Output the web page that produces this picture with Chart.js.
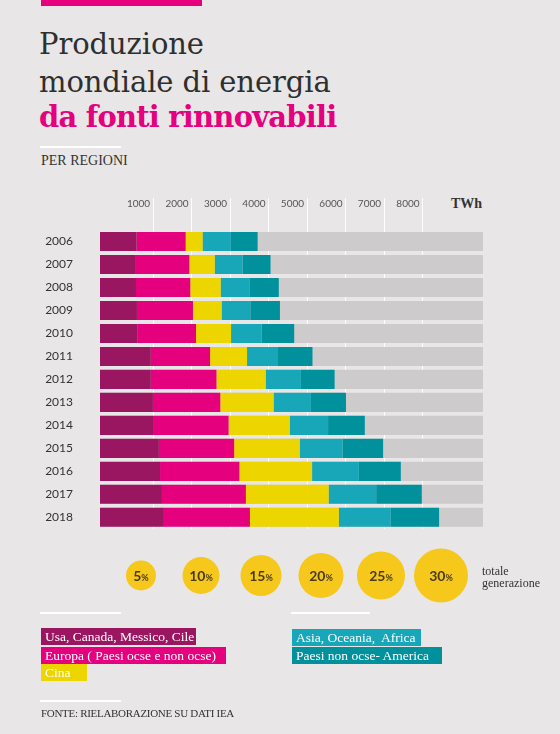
<!DOCTYPE html>
<html>
<head>
<meta charset="utf-8">
<script src="https://cdn.jsdelivr.net/npm/chart.js@4/dist/chart.umd.min.js"></script>
<style>
  html, body { margin: 0; padding: 0; }
  body { width: 560px; height: 734px; background: #e8e6e7; position: relative; overflow: hidden; font-family: "Liberation Serif", serif; color: #333; }
  .abs { position: absolute; }
  #topbar { left: 41px; top: 0; width: 161px; height: 6px; background: #e6007e; }
  .t { left: 39px; font-family: "DejaVu Serif", serif; font-size: 29px; line-height: 36px; white-space: nowrap; color: #2f2f2f; letter-spacing: -0.1px; }
  #t1 { top: 26px; }
  #t2 { top: 64px; }
  #t3 { top: 99px; color: #e5007d; font-weight: bold; letter-spacing: -0.8px; }
  .rule { height: 2px; background: #ffffff; }
  #sub { left: 41px; top: 153px; font-size: 14px; color: #333; }
  #twh { left: 451px; top: 196px; font-size: 14px; font-weight: bold; color: #333; }
  #totale { left: 482px; top: 565px; font-size: 12px; line-height: 12px; color: #333; }
  .leg { left: 41px; height: 17px; line-height: 17px; font-size: 13.5px; color: #fff; padding-left: 4px; white-space: nowrap; box-sizing: border-box; }
  #fonte { left: 41px; top: 707px; font-size: 11px; letter-spacing: -0.3px; color: #333; }
  canvas { display: block; }
</style>
</head>
<body>
<div id="topbar" class="abs"></div>
<div id="t1" class="abs t">Produzione</div>
<div id="t2" class="abs t">mondiale di energia</div>
<div id="t3" class="abs t">da fonti rinnovabili</div>
<div class="abs rule" style="left:40px;top:146px;width:81px;"></div>
<div id="sub" class="abs">PER REGIONI</div>
<div id="twh" class="abs">TWh</div>

<div class="abs" style="left:0;top:185px;width:560px;height:378px;"><canvas id="bars" width="560" height="378"></canvas></div>
<div class="abs" style="left:111px;top:533px;width:360px;height:85px;"><canvas id="bubbles" width="360" height="85"></canvas></div>
<div id="totale" class="abs">totale<br>generazione</div>

<div class="abs rule" style="left:40px;top:612px;width:81px;"></div>
<div class="abs rule" style="left:291px;top:612px;width:79px;"></div>

<div class="abs leg" style="top:628px;width:155px;background:#9b1660;">Usa, Canada, Messico, Cile</div>
<div class="abs leg" style="top:647px;width:185px;background:#e5007d;">Europa ( Paesi ocse e non ocse)</div>
<div class="abs leg" style="top:664px;width:46px;background:#edd500;">Cina</div>
<div class="abs leg" style="left:292px;top:629px;width:129px;background:#17a7b8;">Asia, Oceania,&nbsp; Africa</div>
<div class="abs leg" style="left:292px;top:647px;width:150px;background:#01919d;">Paesi non ocse- America</div>

<div class="abs rule" style="left:40px;top:700px;width:81px;"></div>
<div id="fonte" class="abs">FONTE: RIELABORAZIONE SU DATI IEA</div>

<script>
// ---- data ----
const years = ['2006','2007','2008','2009','2010','2011','2012','2013','2014','2015','2016','2017','2018'];
const usaCanadaMessicoCile = [950, 910, 935, 960, 980, 1320, 1320, 1375, 1400, 1530, 1560, 1610, 1660];
const europa              = [1275, 1410, 1410, 1455, 1515, 1540, 1705, 1750, 1940, 1955, 2060, 2180, 2235];
const cina                = [440, 660, 790, 745, 910, 960, 1280, 1385, 1590, 1705, 1890, 2150, 2310];
const asiaOceaniaAfrica   = [735, 725, 745, 745, 795, 805, 915, 970, 995, 1110, 1215, 1235, 1350];
const nonOcseAmerica      = [695, 725, 765, 770, 845, 895, 875, 910, 955, 1055, 1090, 1185, 1255];
const trackMax = 9950;
const track = years.map(() => trackMax);
const tickValues = [1000, 2000, 3000, 4000, 5000, 6000, 7000, 8000];
const gridShift = 370;

const shareLabels = ['5', '10', '15', '20', '25', '30'];
const shareRadius = [15, 18.5, 20.5, 22.5, 24, 27];

const seriesNames = ['Usa, Canada, Messico, Cile', 'Europa ( Paesi ocse e non ocse)', 'Cina', 'Asia, Oceania,  Africa', 'Paesi non ocse- America'];
const seriesColors = ['#9b1660', '#e5007d', '#edd500', '#17a7b8', '#01919d'];
const seriesData = [usaCanadaMessicoCile, europa, cina, asiaOceaniaAfrica, nonOcseAmerica];

const datasets = seriesData.map((d, i) => ({
  label: seriesNames[i],
  data: d,
  backgroundColor: seriesColors[i],
  stack: 'main',
  order: 1,
  barPercentage: 0.83,
  categoryPercentage: 1.0,
  borderWidth: 0
}));
datasets.push({
  label: 'track',
  data: track,
  backgroundColor: '#cdcbcc',
  stack: 'track',
  grouped: false,
  order: 2,
  barPercentage: 0.83,
  categoryPercentage: 1.0,
  borderWidth: 0
});

const shiftedGrid = {
  id: 'shiftedGrid',
  beforeDatasetsDraw(chart) {
    const x = chart.scales.x;
    const area = chart.chartArea;
    const ctx = chart.ctx;
    ctx.save();
    ctx.strokeStyle = '#ffffff';
    ctx.lineWidth = 1;
    tickValues.forEach(v => {
      const px = Math.round(x.getPixelForValue(v + gridShift)) + 0.5;
      ctx.beginPath();
      ctx.moveTo(px, area.top - 32);
      ctx.lineTo(px, area.bottom);
      ctx.stroke();
    });
    ctx.restore();
  }
};

new Chart(document.getElementById('bars'), {
  type: 'bar',
  data: { labels: years, datasets },
  options: {
    indexAxis: 'y',
    responsive: false,
    animation: false,
    layout: { autoPadding: false, padding: { left: 0, right: 77, top: 0, bottom: 16 } },
    plugins: { legend: { display: false }, tooltip: { enabled: false } },
    scales: {
      x: {
        position: 'top',
        stacked: true,
        min: 0,
        max: trackMax,
        border: { display: false },
        grid: { display: false, drawTicks: false },
        afterBuildTicks(scale) { scale.ticks = tickValues.map(v => ({ value: v })); },
        afterFit(scale) { scale.height = 45; },
        ticks: {
          padding: 20,
          color: '#555',
          font: { family: 'Lato', size: 10 },
          callback: (v) => String(v)
        }
      },
      y: {
        stacked: true,
        border: { display: false },
        grid: { display: false, drawTicks: false },
        afterFit(scale) { scale.width = 100; },
        ticks: {
          padding: 27,
          color: '#333',
          font: { family: 'Lato', size: 12 }
        }
      }
    }
  },
  plugins: [shiftedGrid]
});

const bubbleText = {
  id: 'bubbleText',
  afterDatasetsDraw(chart) {
    const ctx = chart.ctx;
    const meta = chart.getDatasetMeta(0);
    ctx.save();
    ctx.fillStyle = '#4a3b1a';
    ctx.textBaseline = 'alphabetic';
    meta.data.forEach((el, i) => {
      const num = shareLabels[i];
      ctx.font = 'bold 14px Lato';
      const w1 = ctx.measureText(num).width;
      ctx.font = 'bold 9px Lato';
      const w2 = ctx.measureText('%').width;
      const start = el.x - (w1 + w2) / 2;
      ctx.font = 'bold 14px Lato';
      ctx.fillText(num, start, el.y + 5);
      ctx.font = 'bold 9px Lato';
      ctx.fillText('%', start + w1, el.y + 5);
    });
    ctx.restore();
  }
};

new Chart(document.getElementById('bubbles'), {
  type: 'bubble',
  data: {
    labels: shareLabels,
    datasets: [{
      data: shareLabels.map((l, i) => ({ x: l, y: 0, r: shareRadius[i] })),
      backgroundColor: '#f6c81b',
      borderWidth: 0,
      clip: false
    }]
  },
  options: {
    responsive: false,
    animation: false,
    layout: { autoPadding: false, padding: 0 },
    plugins: { legend: { display: false }, tooltip: { enabled: false } },
    scales: {
      x: { type: 'category', offset: true, display: false },
      y: { min: -1, max: 1, display: false }
    }
  },
  plugins: [bubbleText]
});
</script>
</body>
</html>
